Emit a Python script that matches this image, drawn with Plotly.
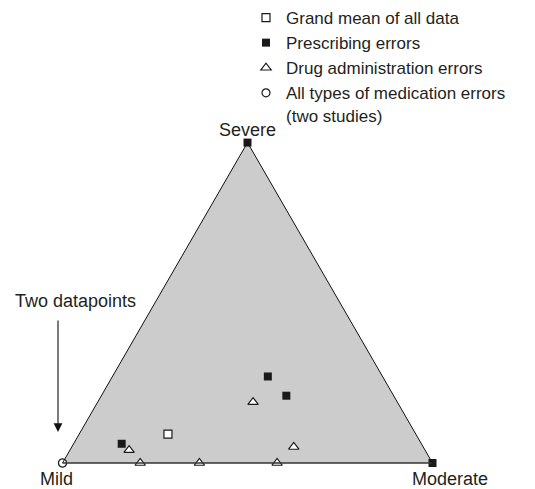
import math
import plotly.graph_objects as go

# ---------------- data ----------------
axis_labels = ["Severe", "Mild", "Moderate"]   # a (top), b (bottom-left), c (bottom-right)
legend_labels = [
    "Grand mean of all data",
    "Prescribing errors",
    "Drug administration errors",
    "All types of medication errors<br>(two studies)",
]

# percentages: severe / mild / moderate
grand_severe = [9]
grand_mild = [67]
grand_moderate = [24]

presc_severe = [100, 0, 27, 21, 6]
presc_mild = [0, 0, 31, 29, 81]
presc_moderate = [0, 100, 42, 50, 13]

drug_severe = [19, 5, 4, 0, 0, 0]
drug_mild = [39, 35, 80, 79, 63, 42]
drug_moderate = [42, 60, 16, 21, 37, 58]

all_severe = [0, 0]
all_mild = [100, 100]
all_moderate = [0, 0]

annotation_text = "Two datapoints"

# ---------------- layout constants ----------------
W, H = 535, 489
FONT = "Liberation Sans, Arial, Helvetica, sans-serif"
TXT = "#231f20"


def px(x):
    return x / W


def py(y):
    return 1 - y / H


tri_left = 62.5
tri_width = 370.0
tri_h = tri_width * math.sqrt(3) / 2
base_y = 463.0

dom_x = [px(tri_left), px(tri_left + tri_width)]
dom_y = [py(base_y), py(base_y - tri_h)]

line_col = "#1a1a1a"

fig = go.Figure()

fig.add_trace(go.Scatterternary(
    a=grand_severe, b=grand_mild, c=grand_moderate, mode="markers",
    name=legend_labels[0], cliponaxis=False,
    marker=dict(symbol="square", size=8, color="white", line=dict(color=line_col, width=1.2)),
))
fig.add_trace(go.Scatterternary(
    a=presc_severe, b=presc_mild, c=presc_moderate, mode="markers",
    name=legend_labels[1], cliponaxis=False,
    marker=dict(symbol="square", size=8, color=line_col, line=dict(color=line_col, width=0)),
))
fig.add_trace(go.Scatterternary(
    a=drug_severe, b=drug_mild, c=drug_moderate, mode="markers",
    name=legend_labels[2], cliponaxis=False,
    marker=dict(symbol="triangle-up", size=9, color="white", line=dict(color=line_col, width=1.2)),
))
fig.add_trace(go.Scatterternary(
    a=all_severe, b=all_mild, c=all_moderate, mode="markers",
    name=legend_labels[3], cliponaxis=False,
    marker=dict(symbol="circle", size=8, color="white", line=dict(color=line_col, width=1.2)),
))

hidden = dict(showticklabels=False, ticks="", showgrid=False, title=dict(text=""),
              linecolor="#111111", linewidth=1, min=0)

fig.update_layout(
    width=W, height=H,
    margin=dict(l=0, r=0, t=0, b=0, autoexpand=False),
    paper_bgcolor="white",
    font=dict(family=FONT, size=18, color=TXT),
    showlegend=True,
    legend=dict(
        x=px(246), y=1, xanchor="left", yanchor="top",
        font=dict(family=FONT, size=17, color=TXT),
        bgcolor="rgba(0,0,0,0)", borderwidth=0, valign="top",
        traceorder="normal",
    ),
    ternary=dict(
        sum=100,
        domain=dict(x=dom_x, y=dom_y),
        bgcolor="#cccccc",
        aaxis=dict(hidden),
        baxis=dict(hidden, linecolor="#333333", linewidth=1.6),
        caxis=dict(hidden),
    ),
)

# vertex labels
fig.add_annotation(x=px(247), y=py(130), xref="paper", yref="paper",
                   text=axis_labels[0], showarrow=False, xanchor="center", yanchor="middle",
                   font=dict(size=18))
fig.add_annotation(x=px(56), y=py(479), xref="paper", yref="paper",
                   text=axis_labels[1], showarrow=False, xanchor="center", yanchor="middle",
                   font=dict(size=18))
fig.add_annotation(x=px(450), y=py(479), xref="paper", yref="paper",
                   text=axis_labels[2], showarrow=False, xanchor="center", yanchor="middle",
                   font=dict(size=18))

# "Two datapoints" note with arrow
fig.add_annotation(x=px(13), y=py(301), xref="paper", yref="paper",
                   text=annotation_text, showarrow=False, xanchor="left", yanchor="middle",
                   font=dict(size=18))
fig.add_annotation(x=px(58), y=py(432), xref="paper", yref="paper",
                   text="", showarrow=True, ax=0, ay=-113,
                   arrowhead=2, arrowsize=1.6, arrowwidth=1.1, arrowcolor="#111111",
                   standoff=0, startstandoff=0)

# remove the default page margin so the figure sits at the window's corner
fig.write_html("out.html", config={"displayModeBar": False},
               post_script="document.body.style.margin='0';")
